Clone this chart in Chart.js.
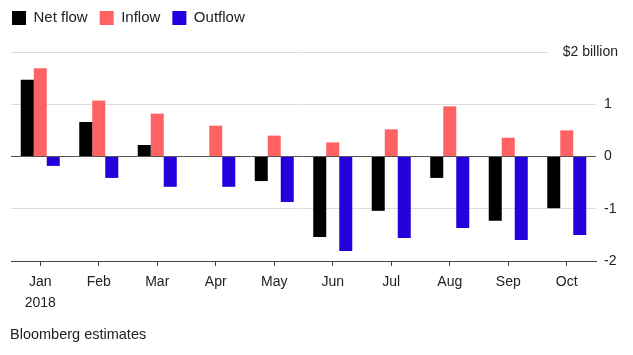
<!DOCTYPE html>
<html>
<head>
<meta charset="utf-8">
<script src="https://cdn.jsdelivr.net/npm/chart.js@4/dist/chart.umd.min.js"></script>
<style>
  html, body { margin: 0; padding: 0; background: #fff; }
  #wrap { position: relative; width: 633px; height: 355px; }
  #note { position: absolute; left: 10px; top: 326px; font: 14.5px/17px "Liberation Sans", Arial, sans-serif; color: #222; white-space: nowrap; }
</style>
</head>
<body>
<div id="wrap">
  <canvas id="c"></canvas>
  <div id="note">Bloomberg estimates</div>
</div>
<script>
const months = ['Jan', 'Feb', 'Mar', 'Apr', 'May', 'Jun', 'Jul', 'Aug', 'Sep', 'Oct'];
const yearLabel = '2018';
const netFlow = [1.47, 0.66, 0.22, 0.01, -0.47, -1.54, -1.04, -0.41, -1.23, -0.99];
const inflow  = [1.69, 1.07, 0.82, 0.59, 0.40, 0.27, 0.52, 0.96, 0.36, 0.50];
const outflow = [-0.18, -0.41, -0.58, -0.58, -0.87, -1.81, -1.56, -1.37, -1.60, -1.50];
const yTicks = [-2, -1, 0, 1, 2];
const topTickLabel = '$2 billion';

Chart.defaults.font.family = '"Liberation Sans", Arial, sans-serif';
Chart.defaults.color = '#222';

const labels = months.map((m, i) => i === 0 ? [m, yearLabel] : m);

const layoutPlugin = {
  id: 'layoutTweak',
  beforeInit(chart) {
    const lg = chart.legend;
    if (lg) {
      const orig = lg.fit;
      lg.fit = function () { orig.call(this); this.height = 52; };
    }
  },
  afterLayout(chart) {
    const lg = chart.legend;
    if (lg) {
      const w = lg.right - lg.left;
      lg.left = 0; lg.right = w;
      lg.top = -1.5; lg.bottom = 50.5;
    }
  },
  afterDraw(chart) {
    const y = chart.scales.y;
    const py = y.getPixelForValue(2);
    const ctx = chart.ctx;
    ctx.save();
    ctx.fillStyle = '#fff';
    ctx.fillRect(548, py - 2, chart.chartArea.right - 548 + 2, 4);
    ctx.fillStyle = '#222';
    ctx.font = '14px "Liberation Sans", Arial, sans-serif';
    ctx.textAlign = 'right';
    ctx.textBaseline = 'middle';
    ctx.fillText(topTickLabel, 618, py);
    ctx.restore();
  }
};

new Chart(document.getElementById('c'), {
  type: 'bar',
  data: {
    labels: labels,
    datasets: [
      { label: 'Net flow', data: netFlow, backgroundColor: '#000000' },
      { label: 'Inflow', data: inflow, backgroundColor: '#ff6262' },
      { label: 'Outflow', data: outflow, backgroundColor: '#2500dc' }
    ]
  },
  options: {
    responsive: true,
    maintainAspectRatio: false,
    animation: false,
    layout: { padding: { left: 11, right: 0, top: 0, bottom: 0 } },
    datasets: { bar: { categoryPercentage: 0.667, barPercentage: 1.0, borderWidth: 0 } },
    plugins: {
      tooltip: { enabled: false },
      legend: {
        display: true,
        position: 'top',
        align: 'start',
        labels: {
          boxWidth: 14, boxHeight: 14, padding: 12,
          font: { size: 15 }, color: '#222'
        }
      }
    },
    scales: {
      x: {
        grid: { display: true, drawOnChartArea: false, drawTicks: true, tickLength: 5, tickColor: '#444', offset: false },
        border: { display: true, color: '#444', width: 1 },
        ticks: { font: { size: 14, lineHeight: 1.5 }, color: '#222', padding: 5.5, maxRotation: 0, autoSkip: false },
        afterFit(s) { s.height = 94; }
      },
      y: {
        position: 'right',
        min: -2, max: 2,
        afterBuildTicks(s) { s.ticks = yTicks.map(v => ({ value: v })); },
        grid: {
          drawTicks: false,
          color: (c) => (c.tick && c.tick.value === 0) ? '#555' : '#dcdcdc',
          lineWidth: 1
        },
        border: { display: false },
        ticks: {
          font: { size: 14 }, color: '#222', padding: 8,
          callback: (v) => v === 2 ? '' : String(v)
        },
        afterFit(s) { s.width = 37; }
      }
    }
  },
  plugins: [layoutPlugin]
});
</script>
</body>
</html>
